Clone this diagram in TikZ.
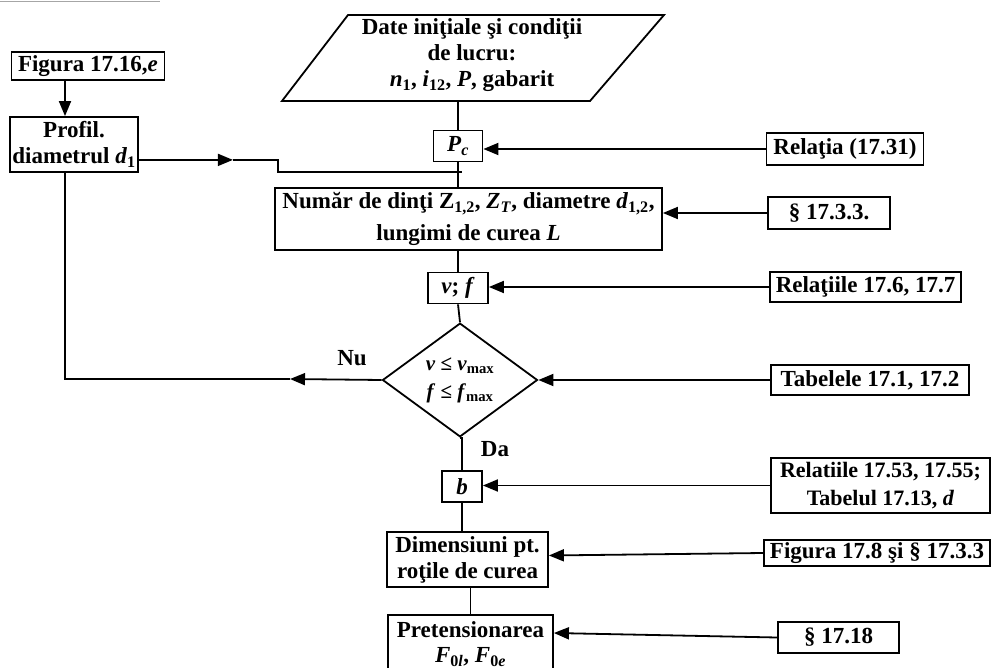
\documentclass[tikz,border=0pt]{standalone}
\usepackage{fontspec}
\setmainfont{Liberation Serif}
\usetikzlibrary{arrows.meta,calc,shapes.geometric}

\begin{document}
\begin{tikzpicture}[x=1pt,y=-1pt,
  every node/.style={font=\fontsize{23}{26}\selectfont\bfseries},
  box/.style 2 args={draw,line width=1.8pt,align=center,inner sep=0pt,
    minimum width=#1,minimum height=#2},
  flow/.style={line width=1.8pt},
  arr/.style={flow,-{Triangle[length=15pt,width=12pt]}},
  lbl/.style={inner sep=0pt}
]
\useasboundingbox (0,0) rectangle (993,668);
\clip (0,0) rectangle (993,668);

% remnant of a page rule
\draw[gray!70,line width=0.8pt] (0,1) -- (160,1);

% ---- input block (parallelogram) ----
\draw[flow] (348,15) -- (664,15) -- (590,101) -- (282,101) -- cycle;
\node[align=center,inner sep=0pt] (in) at (472,55)
  {Date iniţiale şi condiţii\\de lucru:\\
   \textit{n}\textsubscript{1}, \textit{i}\textsubscript{12}, \textit{P}, gabarit};
\coordinate (inB) at (458,101);

% ---- main column ----
\node[box={49pt}{31pt}] (pc) at (458,146) {\textit{P}\textsubscript{\textit{c}}};
\node[box={387pt}{62pt},font=\fontsize{23}{32}\selectfont\bfseries] (num) at (468.5,219)
  {Număr de dinţi Z\textsubscript{1,2}, \textit{Z}\textsubscript{\textit{T}}, diametre \textit{d}\textsubscript{1,2},\\
   lungimi de curea \textit{L}};
\node[box={60pt}{31pt}] (vf) at (458,288) {\textit{v}; \textit{f}};
\node[draw,line width=1.8pt,shape=diamond,minimum width=155pt,minimum height=107pt,
  inner sep=0pt,align=center,font=\fontsize{21}{28}\selectfont\bfseries] (dia) at (460,380)
  {\textit{v} ≤ \textit{v}\textsubscript{max}\\\textit{f} ≤ \textit{f}\textsubscript{max}};
\node[box={40pt}{31pt}] (b) at (462,486.5) {\textit{b}};
\node[box={161pt}{55pt}] (dim) at (467.5,559.5) {Dimensiuni pt.\\roţile de curea};
\node[box={165pt}{58pt},font=\fontsize{23}{25}\selectfont\bfseries] (pre) at (470.5,644) {Pretensionarea\\
  \textit{F}\textsubscript{0\textit{l}}, \textit{F}\textsubscript{0\textit{e}}};

% ---- reference boxes on the right ----
\node[box={157pt}{32pt}] (rel1) at (845,149) {Relaţia (17.31)};
\node[box={122pt}{32pt}] (sec1) at (829,213) {§ 17.3.3.};
\node[box={191pt}{30pt}] (rel2) at (865.5,287) {Relaţiile 17.6, 17.7};
\node[box={198pt}{30pt}] (tab) at (870,380) {Tabelele 17.1, 17.2};
\node[box={219pt}{55pt},font=\fontsize{22}{28}\selectfont\bfseries] (rel3) at (880.5,485.5)
  {Relatiile 17.53, 17.55;\\Tabelul 17.13, \textit{d}};
\node[box={226pt}{26pt}] (fig2) at (877,553) {Figura 17.8 şi § 17.3.3};
\node[box={121pt}{31pt}] (sec2) at (838.5,637.5) {§ 17.18};

% ---- left column ----
\node[box={153pt}{28pt}] (fig) at (88,66) {Figura 17.16,\textit{e}};
\node[box={128pt}{55pt}] (prof) at (74,144.5) {Profil.\\diametrul \textit{d}\textsubscript{1}};
\coordinate (lx) at (65,0);

% ---- labels ----
\node[lbl] (nu) at (352,358) {Nu};
\node[lbl] (da) at (495,449) {Da};

% ---- main flow ----
\draw[flow] (inB) -- (pc.north);
\draw[flow] (pc.south) -- (pc.south |- num.north);
\draw[flow] (num.south -| vf.north) -- (vf.north);
\draw[flow] (vf.south) -- (dia.north);
\draw[flow] (dia.south) -- (dia.south -| b.north) -- (b.north);
\draw[flow] (b.south) -- (b.south |- dim.north);
\draw[flow] (dim.south -| pre.north) -- (pre.north);

% ---- inputs from the references ----
\draw[arr] (rel1.west) -- (pc.east |- rel1.west);
\draw[arr] (sec1.west) -- (num.east |- sec1.west);
\draw[arr] (rel2.west) -- (vf.east |- rel2.west);
\draw[arr] (tab.west) -- (dia.east);
\draw[arr] (rel3.west) -- (b.east |- rel3.west);
\draw[arr] (fig2.west) -- ($(dim.east)+(0,-4)$);
\draw[arr] (sec2.west) -- ($(pre.east)+(0,-11)$);

% ---- left branch ----
\draw[arr] (fig.south -| lx) -- (prof.north -| lx);
\coordinate (pOut) at ($(prof.south east)+(0,-13)$);
\coordinate (pMid) at ($(pOut)+(94,0)$);
\coordinate (pKnee) at ($(pOut)+(139,0)$);
\coordinate (join) at ($(pc.south)!0.38!(num.north)$);
\draw[arr] (pOut) -- (pMid);
\draw[flow] (pMid) -- (pKnee) -- (pKnee |- join) -- (join);

% "Nu" branch back to the profile block
\coordinate (nuMid) at (290,379);
\coordinate (nuCorner) at (lx |- nuMid);
\draw[arr] (dia.west) -- (nuMid);
\draw[flow] (nuMid) -- (nuCorner) -- (prof.south -| lx);
\end{tikzpicture}
\end{document}
